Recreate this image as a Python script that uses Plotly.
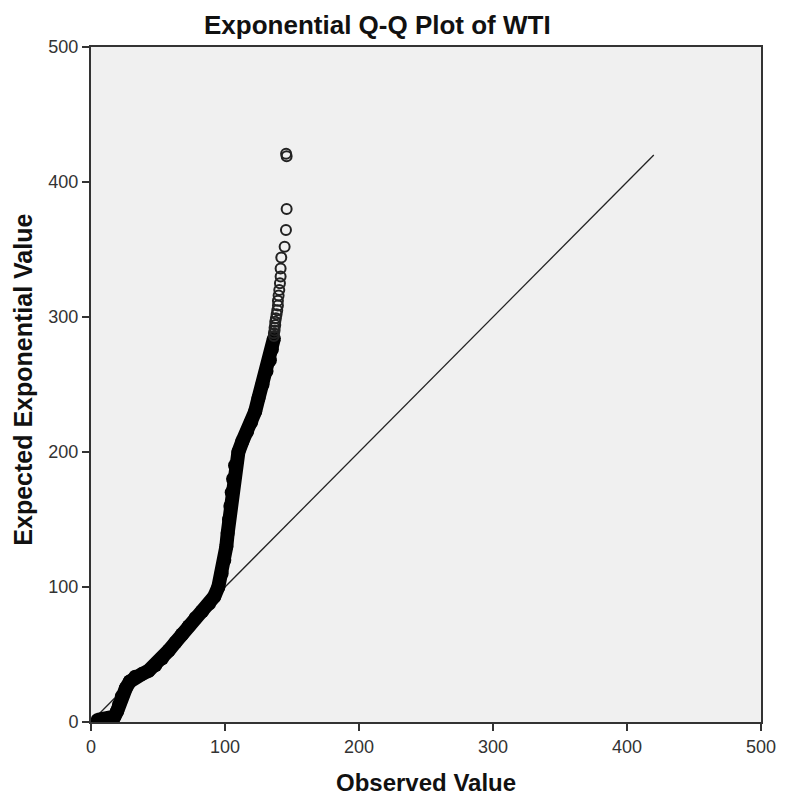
import plotly.graph_objects as go

# Dense band of the Q-Q curve (observed value, expected exponential value)
band_observed = [5, 10, 15, 17.5, 19.5, 21, 23, 26, 29, 33, 38, 43, 48, 53, 58, 63, 68, 73, 78, 83, 88, 92,
                 95, 97.5, 99.5, 101, 102, 103, 104, 105, 106, 107.5, 110, 113, 116.5, 119.5, 122.5, 125,
                 128, 131, 133.5, 135, 136.5]
band_expected = [1.5, 1.5, 2, 4, 8, 13, 19, 25, 30, 33.5, 35.5, 38, 42, 47, 53, 59, 65, 71, 77, 82, 87.5, 93,
                 100, 110, 120, 130, 140, 150, 160, 170, 180, 190, 200, 208, 215, 222, 230, 240,
                 250, 260, 268, 276, 284]

# Individually visible circles at the upper tail
tail_observed = [146, 145.6, 146, 145.5, 144.5, 142, 141.5, 141.5, 141, 140.5, 140, 139.5, 139.5, 139,
                 138.5, 138, 137.5, 137.5, 137, 137, 136.5, 136.5]
tail_expected = [419, 421, 380, 364.5, 352, 344, 336, 330, 325, 320, 316, 312, 308.5, 305,
                 302, 299, 296.5, 294, 292, 290, 288, 286]

# Reference line
ref_x = [0, 420]
ref_y = [0, 420]

x_ticks = [0, 100, 200, 300, 400, 500]
y_ticks = [0, 100, 200, 300, 400, 500]

FONT = "Arial, Liberation Sans, sans-serif"
INK = "#222222"

fig = go.Figure()
fig.add_trace(go.Scatter(x=ref_x, y=ref_y, mode="lines",
                         line=dict(color=INK, width=1.3), hoverinfo="skip"))
fig.add_trace(go.Scatter(x=band_observed, y=band_expected, mode="lines",
                         line=dict(color="black", width=14), hoverinfo="skip"))
fig.add_trace(go.Scatter(x=band_observed, y=band_expected, mode="markers",
                         marker=dict(symbol="circle", size=14, color="black",
                                     line=dict(color="black", width=0))))
fig.add_trace(go.Scatter(x=tail_observed, y=tail_expected, mode="markers",
                         marker=dict(symbol="circle-open", size=10, color=INK,
                                     line=dict(color=INK, width=2))))

axis_common = dict(range=[0, 500], showgrid=False, zeroline=False, showline=True,
                   linecolor="#333333", linewidth=2, mirror=True, ticks="outside",
                   ticklen=7, tickwidth=2, tickcolor="#333333",
                   tickfont=dict(family=FONT, size=18, color="#333333"))

fig.update_layout(
    width=788, height=796,
    margin=dict(l=91, r=18, t=47, b=74),
    paper_bgcolor="white", plot_bgcolor="#f0f0f0",
    showlegend=False,
    xaxis=dict(**axis_common, tickvals=x_ticks),
    yaxis=dict(**axis_common, tickvals=y_ticks),
    annotations=[
        dict(text="<b>Exponential Q-Q Plot of WTI</b>", xref="paper", yref="paper",
             x=0.427, y=1.0326, xanchor="center", yanchor="middle", showarrow=False,
             font=dict(family=FONT, size=26, color="#111111")),
        dict(text="<b>Observed Value</b>", xref="paper", yref="paper",
             x=0.5, y=-0.089, xanchor="center", yanchor="middle", showarrow=False,
             font=dict(family=FONT, size=24, color="#111111")),
        dict(text="<b>Expected Exponential Value</b>", xref="paper", yref="paper",
             x=-0.1016, y=0.507, xanchor="center", yanchor="middle", showarrow=False,
             textangle=-90, font=dict(family=FONT, size=25, color="#111111")),
    ],
)

fig.write_html("out.html")
